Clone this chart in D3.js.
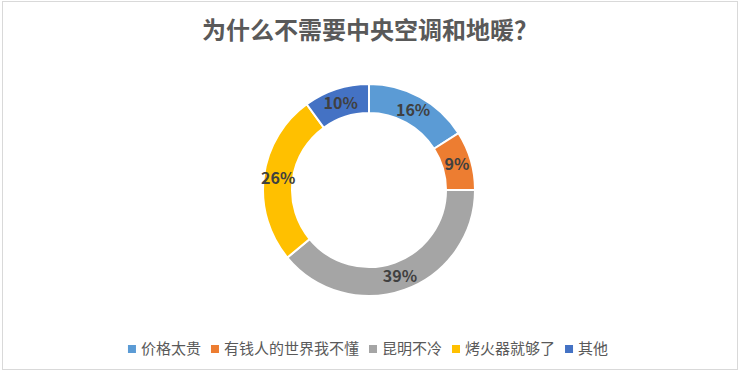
<!DOCTYPE html>
<html lang="zh">
<head>
  <meta charset="UTF-8">
  <title>为什么不需要中央空调和地暖？</title>
  <script src="https://d3js.org/d3.v7.min.js"></script>
  <style>
    body { margin: 0; background: #fff; }
    text { font-family: "Noto Sans CJK SC", "Microsoft YaHei", sans-serif; }
  </style>
</head>
<body>
  <svg width="740" height="374"></svg>

  <script>
    // data
    const categories = ["价格太贵", "有钱人的世界我不懂", "昆明不冷", "烤火器就够了", "其他"];
    const shares = [16, 9, 39, 26, 10];
    const colors = ["#5B9BD5", "#ED7D31", "#A5A5A5", "#FFC000", "#4472C4"];
    const title = "为什么不需要中央空调和地暖？";

    const data = categories.map((c, i) => ({ name: c, value: shares[i] }));

    const svg = d3.select("svg");

    // chart frame
    svg.append("rect")
      .attr("x", 2.5).attr("y", 1.5)
      .attr("width", 735).attr("height", 368)
      .attr("fill", "#fff")
      .attr("stroke", "#d9d9d9");

    svg.append("text")
      .attr("x", 370).attr("y", 39)
      .attr("text-anchor", "middle")
      .attr("font-size", 24)
      .attr("font-weight", "bold")
      .attr("fill", "#595959")
      .text(title);

    const color = d3.scaleOrdinal().domain(categories).range(colors);

    const pie = d3.pie().value(d => d.value).sort(null);
    const arc = d3.arc().innerRadius(77).outerRadius(106);

    const g = svg.append("g").attr("transform", "translate(369,190)");

    const arcs = g.selectAll(".slice")
      .data(pie(data))
      .enter().append("g").attr("class", "slice");

    arcs.append("path")
      .attr("d", arc)
      .attr("fill", d => color(d.data.name))
      .attr("stroke", "#fff")
      .attr("stroke-width", 2);

    arcs.append("text")
      .attr("transform", d => `translate(${arc.centroid(d)})`)
      .attr("text-anchor", "middle")
      .attr("dy", "0.36em")
      .attr("font-size", 16)
      .attr("font-weight", "bold")
      .attr("fill", "#404040")
      .text(d => d.data.value + "%");

    // legend, centred under the chart
    const legend = svg.append("g").attr("transform", "translate(0,349)");
    const items = legend.selectAll(".item")
      .data(categories)
      .enter().append("g").attr("class", "item");

    items.append("rect")
      .attr("y", -4).attr("width", 8).attr("height", 8)
      .attr("fill", d => color(d));

    items.append("text")
      .attr("x", 13).attr("dy", "0.35em")
      .attr("font-size", 15)
      .attr("fill", "#595959")
      .text(d => d);

    let xPos = 0;
    const gap = 10;
    items.each(function() {
      const w = this.getBBox().width;
      d3.select(this).attr("transform", `translate(${xPos},0)`);
      xPos += w + gap;
    });
    const total = xPos - gap;
    legend.attr("transform", `translate(${368 - total / 2},349)`);
  </script>
</body>
</html>
